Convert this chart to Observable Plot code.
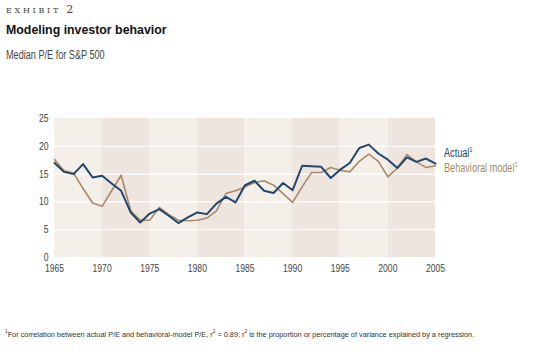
<!DOCTYPE html>
<html><head><meta charset="utf-8">
<script src="https://cdn.jsdelivr.net/npm/d3@7"></script>
<script src="https://cdn.jsdelivr.net/npm/@observablehq/plot@0.6"></script>
<style>
body{margin:0;background:#fff;}
#wrap{position:relative;width:545px;height:354px;overflow:hidden;font-family:"Liberation Sans",Arial,sans-serif;}
#chart{position:absolute;left:0;top:0;}
.t{position:absolute;white-space:nowrap;transform-origin:0 0;}
.n{transform:scaleX(0.76);}
#exhibit{left:6px;top:3px;font-family:"DejaVu Serif","Liberation Serif",serif;font-size:8px;letter-spacing:2.7px;color:#444;}
#exhibit span{font-size:11px;letter-spacing:0;}
#title{left:6px;top:22px;font-weight:bold;font-size:13px;color:#111;transform:scaleX(0.95);}
#sub{left:6px;top:48px;font-size:12px;color:#444;}
#leg1{left:444px;top:146px;font-size:12px;color:#23466e;}
#leg2{left:444px;top:161px;font-size:12px;color:#a8896a;}
#foot{left:5px;top:330px;font-size:8px;color:#333;transform:scaleX(0.915);}
sup{font-size:65%;line-height:0;}
</style></head>
<body><div id="wrap">
<div id="chart"></div>
<div class="t" id="exhibit">EXHIBIT <span>2</span></div>
<div class="t" id="title">Modeling investor behavior</div>
<div class="t n" id="sub">Median P/E for S&amp;P 500</div>
<div class="t n" id="leg1">Actual<sup>1</sup></div>
<div class="t n" id="leg2">Behavioral model<sup>1</sup></div>
<div class="t" id="foot"><sup>1</sup>For correlation between actual P/E and behavioral-model P/E, r<sup>2</sup> = 0.89; r<sup>2</sup> is the proportion or percentage of variance explained by a regression.</div>
</div>
<script>
const years = [1965,1966,1967,1968,1969,1970,1971,1972,1973,1974,1975,1976,1977,1978,1979,1980,1981,1982,1983,1984,1985,1986,1987,1988,1989,1990,1991,1992,1993,1994,1995,1996,1997,1998,1999,2000,2001,2002,2003,2004,2005];
const actual = [17.0,15.4,15.0,16.8,14.4,14.7,13.3,12.0,8.1,6.3,7.9,8.7,7.5,6.2,7.2,8.1,7.8,9.7,10.9,9.9,13.0,13.8,12.0,11.6,13.4,12.1,16.5,16.4,16.3,14.3,15.8,17.0,19.7,20.3,18.7,17.6,16.1,18.0,17.2,17.8,16.9];
const behavioral = [17.6,15.6,15.2,12.4,9.8,9.2,12.0,14.8,8.4,6.7,6.7,9.0,7.7,6.7,6.6,6.7,7.1,8.4,11.5,12.0,12.7,13.5,13.8,13.0,11.5,9.9,12.7,15.3,15.3,16.2,15.7,15.4,17.3,18.6,17.3,14.5,16.1,18.5,17.2,16.2,16.5];
const bandStarts = [1965,1970,1975,1980,1985,1990,1995,2000];
const xTicks = [1965,1970,1975,1980,1985,1990,1995,2000,2005];
const yTicks = [0,5,10,15,20,25];
const gridLevels = [5,10,15,20];

const bands = bandStarts.map((s,i)=>({x1:s,x2:s+5,dark:i%2===1}));
const rows = years.map((y,i)=>({year:y,actual:actual[i],behavioral:behavioral[i]}));

const plot = Plot.plot({
  width:545, height:354,
  marginLeft:54, marginRight:110, marginTop:118, marginBottom:97,
  x:{domain:[1965,2005], label:null},
  y:{domain:[0,25], label:null},
  style:{fontFamily:'"Liberation Sans",Arial,sans-serif', fontSize:"11px", color:"#444", background:"transparent"},
  marks:[
    Plot.rectY(bands,{x1:"x1",x2:"x2",y1:0,y2:25,fill:d=>d.dark?"#eee5de":"#f5efea",inset:0}),
    Plot.ruleY(gridLevels,{stroke:"#ffffff",strokeWidth:1.3}),
    Plot.lineY(rows,{x:"year",y:"behavioral",stroke:"#a8896a",strokeWidth:1.6}),
    Plot.lineY(rows,{x:"year",y:"actual",stroke:"#23466e",strokeWidth:2}),
    Plot.axisX({ticks:xTicks, tickFormat:d=>String(d), tickSize:0, tickPadding:7, fontSize:11}),
    Plot.axisY({ticks:yTicks, tickSize:0, tickPadding:6, fontSize:11})
  ]
});
document.getElementById("chart").appendChild(plot);
// condense tick labels to mimic the narrow typeface
plot.querySelectorAll("g[aria-label$='tick label'] text").forEach(t=>{
  const L=t.getComputedTextLength();
  t.setAttribute("textLength",(L*0.78).toFixed(2));
  t.setAttribute("lengthAdjust","spacingAndGlyphs");
});
</script>
</body></html>
